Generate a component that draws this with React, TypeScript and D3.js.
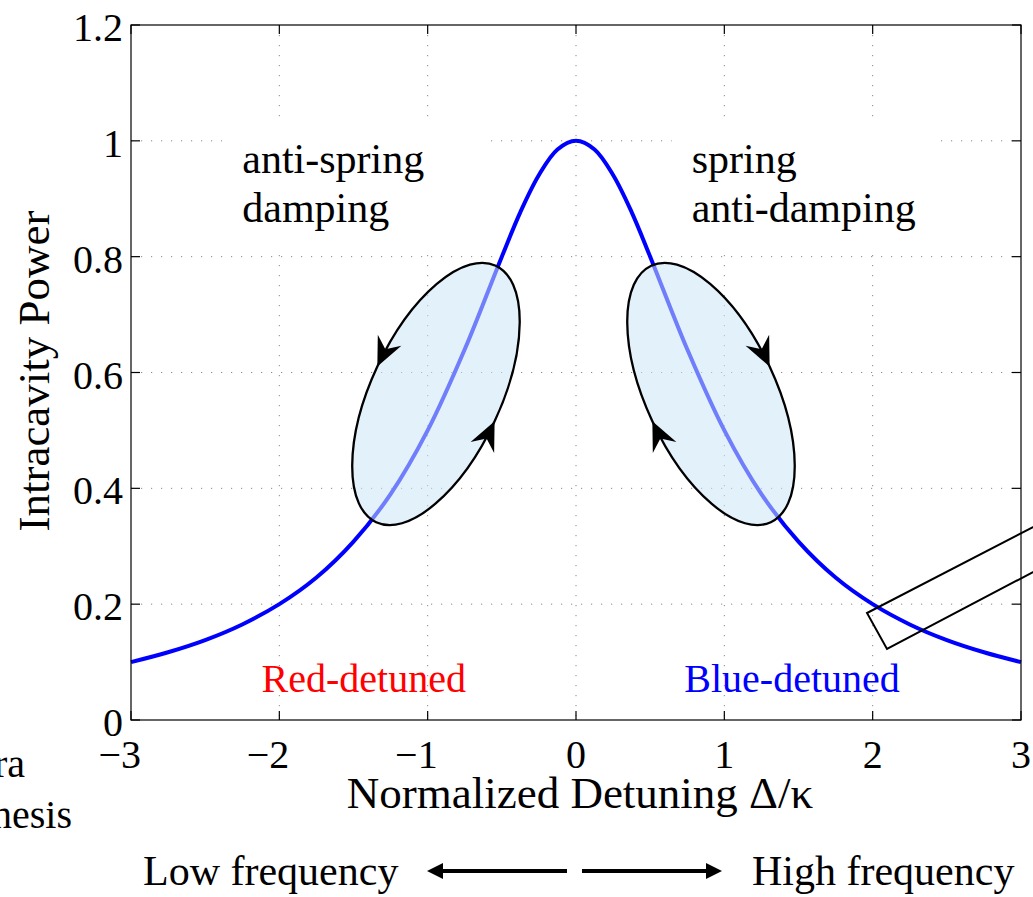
import React from "react";
import * as d3 from "d3";

// ---- data ----
const detuning = [-3, -2.75, -2.5, -2.25, -2, -1.75, -1.5, -1.25, -1, -0.75, -0.5, -0.375, -0.25, -0.125, 0,
  0.125, 0.25, 0.375, 0.5, 0.75, 1, 1.25, 1.5, 1.75, 2, 2.25, 2.5, 2.75, 3];
const power = [0.1, 0.117, 0.138, 0.165, 0.2, 0.246, 0.308, 0.39, 0.5, 0.64, 0.8, 0.877, 0.941, 0.985, 1,
  0.985, 0.941, 0.877, 0.8, 0.64, 0.5, 0.39, 0.308, 0.246, 0.2, 0.165, 0.138, 0.117, 0.1];
const xTicks = [-3, -2, -1, 0, 1, 2, 3];
const yTicks = [0, 0.2, 0.4, 0.6, 0.8, 1, 1.2];
const yTickLabels = ["0", "0.2", "0.4", "0.6", "0.8", "1", "1.2"];
const loopCenters = [
  { x: -0.944, y: 0.563, mirror: false },
  { x: 0.91, y: 0.563, mirror: true },
];
const regionTexts = [
  { x: -2.25, lines: ["anti-spring", "damping"] },
  { x: 0.78, lines: ["spring", "anti-damping"] },
];
const detunedLabels = [
  { x: -2.12, text: "Red-detuned", color: "#ff0000" },
  { x: 0.73, text: "Blue-detuned", color: "#0000ff" },
];

const W = 1033, H = 897;
const FONT = "'Liberation Serif', 'Times New Roman', serif";

export default function App() {
  const x = d3.scaleLinear().domain([-3, 3]).range([131, 1021]);
  const y = d3.scaleLinear().domain([0, 1.2]).range([720, 25]);
  const pts = detuning.map((d, i) => [d, power[i]] as [number, number]);
  const line = d3.line<[number, number]>().x(d => x(d[0])).y(d => y(d[1])).curve(d3.curveCatmullRom.alpha(0.5));
  const [x0, x1] = x.range();
  const [yb, yt] = y.range();
  const tickLen = 9;
  const a = 141.5, b = 64.7;
  const arrowHead = (tipX: number, tipY: number, dir: number) => {
    const s = -dir;
    return `M${tipX},${tipY} L${tipX + s * 29},${tipY - 13} L${tipX + s * 19},${tipY} L${tipX + s * 29},${tipY + 13} Z`;
  };
  return (
    <svg width={W} height={H} style={{ position: "absolute", left: 0, top: 0, background: "#fff" }} fontFamily={FONT}>
      <rect x={0} y={0} width={W} height={H} fill="#fff" />
      {/* grid */}
      <g stroke="#888" strokeWidth={1} strokeDasharray="1.2,8.8">
        {xTicks.slice(1, -1).map(t => (
          <line key={"gx" + t} x1={x(t)} x2={x(t)} y1={yt} y2={yb} />
        ))}
        {yTicks.slice(1, -1).map(t => (
          <line key={"gy" + t} x1={x0} x2={x1} y1={y(t)} y2={y(t)} />
        ))}
      </g>
      {/* white text boxes covering grid */}
      {regionTexts.map((r, i) => (
        <rect key={"bx" + i} x={x(r.x) - 20} y={123} width={262} height={127} fill="#fff" />
      ))}
      {/* curve */}
      <path d={line(pts) || ""} fill="none" stroke="#0000ff" strokeWidth={4} />
      {/* loops */}
      {loopCenters.map((c, i) => (
        <g key={"lp" + i} transform={`translate(${x(c.x)},${y(c.y)}) ${c.mirror ? "scale(-1,1)" : ""} rotate(-65)`}>
          <ellipse cx={0} cy={0} rx={a} ry={b} fill="#cce6f7" fillOpacity={0.55} stroke="#000" strokeWidth={2.3} />
          <path d={arrowHead(0, -b, -1)} fill="#000" />
          <path d={arrowHead(0, b, 1)} fill="#000" />
        </g>
      ))}
      {/* region texts */}
      {regionTexts.map((r, i) => (
        <text key={"rt" + i} x={x(r.x)} y={173} fontSize={42} fill="#000">
          <tspan x={x(r.x)} dy={0}>{r.lines[0]}</tspan>
          <tspan x={x(r.x)} dy={49}>{r.lines[1]}</tspan>
        </text>
      ))}
      {detunedLabels.map((l, i) => (
        <text key={"dl" + i} x={x(l.x)} y={692} fontSize={40} fill={l.color}>{l.text}</text>
      ))}
      {/* axes box */}
      <rect x={x0} y={yt} width={x1 - x0} height={yb - yt} fill="none" stroke="#000" strokeWidth={1.2} />
      <g stroke="#000" strokeWidth={1.2}>
        {xTicks.map(t => (
          <g key={"tx" + t}>
            <line x1={x(t)} x2={x(t)} y1={yb} y2={yb - tickLen} />
            <line x1={x(t)} x2={x(t)} y1={yt} y2={yt + tickLen} />
          </g>
        ))}
        {yTicks.map(t => (
          <g key={"ty" + t}>
            <line x1={x0} x2={x0 + tickLen} y1={y(t)} y2={y(t)} />
            <line x1={x1} x2={x1 - tickLen} y1={y(t)} y2={y(t)} />
          </g>
        ))}
      </g>
      {/* tick labels */}
      {xTicks.map(t => (
        <text key={"xl" + t} x={t < 0 ? x(t) + 10 : x(t)} y={yb + 48} fontSize={40}
          textAnchor={t < 0 ? "end" : "middle"}>{t < 0 ? "\u2212" + Math.abs(t) : String(t)}</text>
      ))}
      {yTicks.map((t, i) => (
        <text key={"yl" + t} x={x0 - 8} y={y(t) + 16} fontSize={40} textAnchor="end">{yTickLabels[i]}</text>
      ))}
      {/* axis labels */}
      <text x={580} y={808} fontSize={45} textAnchor="middle">Normalized Detuning Δ/κ</text>
      <text transform="translate(49,371) rotate(-90)" fontSize={45} textAnchor="middle">Intracavity Power</text>
      {/* partial texts on left */}
      <text x={25} y={777} fontSize={40} textAnchor="end">ra</text>
      <text x={72} y={828} fontSize={40} textAnchor="end">nesis</text>
      {/* frequency arrows */}
      <text x={143} y={885} fontSize={42}>Low frequency</text>
      <text x={752} y={885} fontSize={42}>High frequency</text>
      <line x1={567} x2={440} y1={871} y2={871} stroke="#000" strokeWidth={4} />
      <path d="M427,871 L443,863 L443,879 Z" fill="#000" />
      <line x1={582} x2={709} y1={871} y2={871} stroke="#000" strokeWidth={4} />
      <path d="M722,871 L706,863 L706,879 Z" fill="#000" />
      {/* tilted rectangle (cropped) */}
      <polyline points="1040,523.4 867,613 887,649 1040,568.4" fill="none" stroke="#000" strokeWidth={2} />
    </svg>
  );
}
